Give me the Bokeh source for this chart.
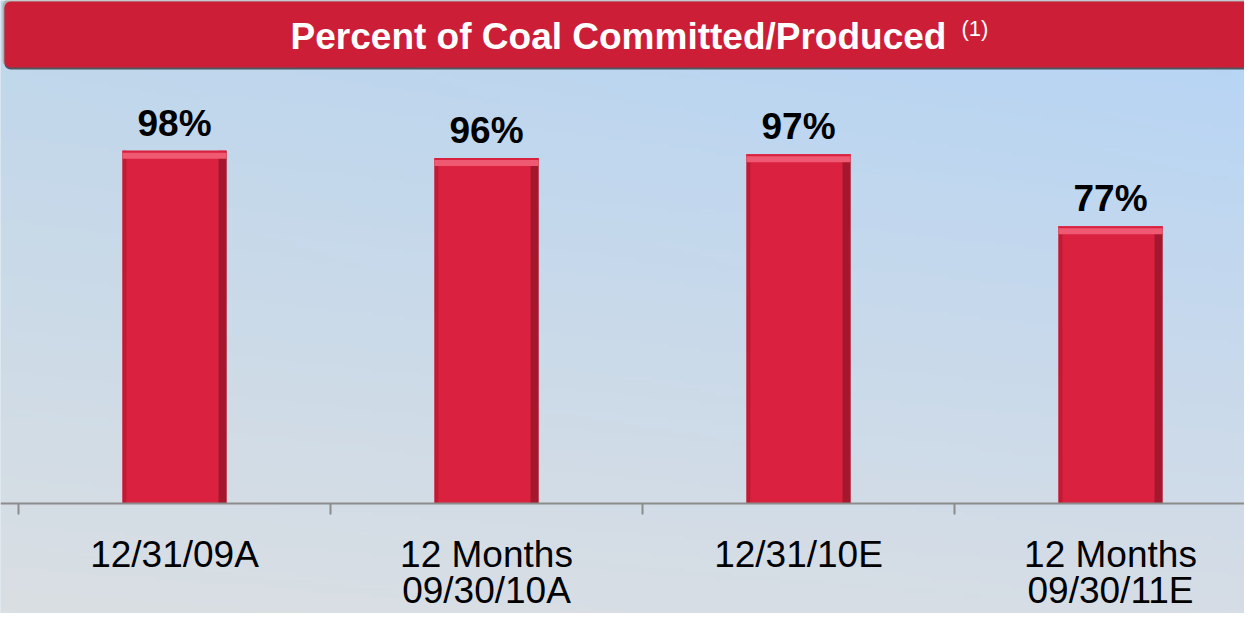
import numpy as np
from bokeh.plotting import figure
from bokeh.models import FixedTicker, Range1d, BoxAnnotation, Label
from bokeh.embed import file_html
from bokeh.resources import INLINE
from bokeh.core.properties import value

# ---- data ----
categories = ["12/31/09A", "12 Months\n09/30/10A", "12/31/10E", "12 Months\n09/30/11E"]
percent = [98, 96, 97, 77]
value_labels = ["98%", "96%", "97%", "77%"]
title_text = "Percent of Coal Committed/Produced"
title_note = "(1)"

# ---- geometry ----
W, H = 1244, 613
AXIS_Y = 503          # pixel row of the axis line, from the top
cat_px = 312.0
x0 = -18 / cat_px
x1 = x0 + W / cat_px
px_per_pct = 3.6
y1 = AXIS_Y / px_per_pct
y0 = -(H - AXIS_Y) / px_per_pct

def dx(px):
    return x0 + px / cat_px

def dy(py):
    return y1 - py / px_per_pct

FONT = value("Liberation Sans")

p = figure(width=W, height=H, output_backend="svg", toolbar_location=None,
           x_range=Range1d(x0, x1), y_range=Range1d(y0, y1),
           min_border_left=0, min_border_right=0, min_border_top=0,
           min_border_bottom=0)
p.outline_line_color = None
p.grid.visible = False
p.yaxis.visible = False
p.border_fill_color = "#d4dbe3"
p.background_fill_color = "#c8d9ea"

# background gradient
ny, nx = 150, 80
img = np.zeros((ny, nx), dtype=np.uint32)
view = img.view(dtype=np.uint8).reshape((ny, nx, 4))
top = np.array([186, 212, 238], float)
bot = np.array([214, 221, 229], float)
for j in range(ny):
    t = j / (ny - 1)  # 0 bottom -> 1 top
    base = bot * (1 - t) + top * t
    for i in range(nx):
        s = i / (nx - 1)
        c = base + np.array([-6, 0, 8]) * s * t + np.array([4, 2, -2]) * (1 - s)
        view[j, i, 0:3] = np.clip(c, 0, 255)
        view[j, i, 3] = 255
p.image_rgba(image=[img], x=x0, y=y0, dw=x1 - x0, dh=y1 - y0)

# axis
xs = [i + 0.5 for i in range(len(categories))]
ax = p.xaxis[0]
ax.fixed_location = 0
ax.ticker = FixedTicker(ticks=xs, minor_ticks=list(range(len(categories) + 1)))
ax.major_label_overrides = {x: c for x, c in zip(xs, categories)}
ax.major_tick_line_color = None
ax.major_tick_out = 0
ax.major_tick_in = 0
ax.minor_tick_line_color = "#8c8c8c"
ax.minor_tick_line_width = 2
ax.minor_tick_out = 11
ax.minor_tick_in = 0
ax.axis_line_color = "#8c8c8c"
ax.axis_line_width = 2
ax.major_label_standoff = 19
ax.major_label_text_font = "Liberation Sans"
ax.major_label_text_font_size = "37px"
ax.major_label_text_color = "#000000"
ax.major_label_text_line_height = 0.88

# bars
bw = 104 / cat_px
p.vbar(x=xs, top=percent, bottom=0, width=bw, fill_color="#da2240", line_color=None)
# left/right bevels
p.vbar(x=[x - bw / 2 + 2 / cat_px for x in xs], top=percent, bottom=0, width=4 / cat_px,
       fill_color="#c01a34", line_color=None)
p.vbar(x=[x + bw / 2 - 4 / cat_px for x in xs], top=percent, bottom=0, width=8 / cat_px,
       fill_color="#a5172d", line_color=None)
# top highlight
p.vbar(x=xs, top=percent, bottom=[v - 8 / px_per_pct for v in percent], width=bw,
       fill_color="#ef5a72", line_color=None)
p.vbar(x=xs, top=percent, bottom=[v - 2 / px_per_pct for v in percent], width=bw,
       fill_color="#d8213e", line_color=None)

# value labels
p.text(x=xs, y=percent, text=value_labels, text_align="center", text_baseline="bottom",
       y_offset=-7, text_font=FONT, text_font_style="bold", text_font_size="37px",
       text_color="#000000")

# title banner
p.add_layout(BoxAnnotation(left=dx(2), right=x1 + 1, top=dy(-1), bottom=dy(66),
                           fill_color="#aeb0ae", fill_alpha=1, line_color=None, border_radius=6))
p.add_layout(BoxAnnotation(left=dx(4), right=x1 + 1, top=dy(2), bottom=dy(69),
                           fill_color="#4e5760", fill_alpha=1, line_color=None, border_radius=6))
p.add_layout(BoxAnnotation(left=dx(4), right=x1 + 1, top=dy(1), bottom=dy(67),
                           fill_color="#cc1f37", fill_alpha=1, line_color=None, border_radius=6))
p.add_layout(Label(x=dx(618), y=dy(36), text=title_text, text_align="center",
                   text_baseline="alphabetic", text_font="Liberation Sans",
                   text_font_style="bold", text_font_size="37px", text_color="#ffffff"))
p.add_layout(Label(x=dx(961), y=dy(28), text=title_note, text_align="left",
                   text_baseline="alphabetic", text_font="Liberation Sans",
                   text_font_size="22px", text_color="#ffffff"))

open("out.html", "w").write(file_html(p, INLINE))
